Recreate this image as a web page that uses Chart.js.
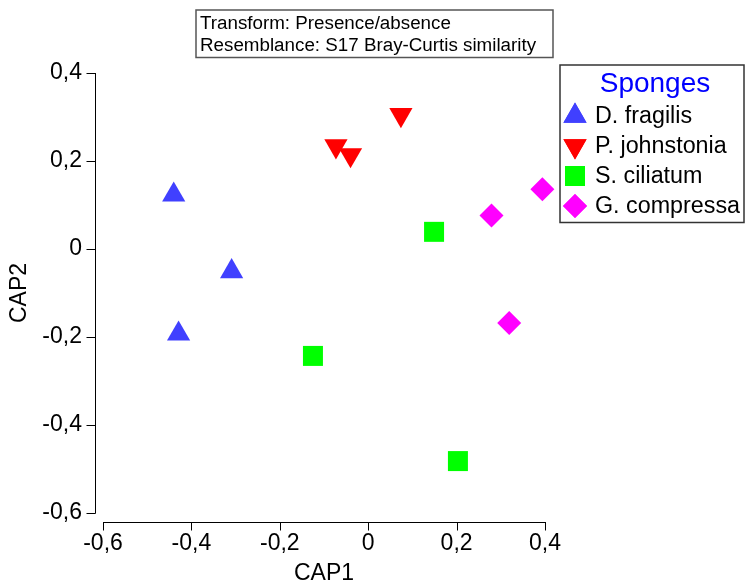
<!DOCTYPE html>
<html>
<head>
<meta charset="utf-8">
<script src="https://cdn.jsdelivr.net/npm/chart.js@4/dist/chart.umd.min.js"></script>
<style>
  html, body { margin: 0; padding: 0; background: #fff; }
  canvas { display: block; }
</style>
</head>
<body>
<canvas id="capChart" width="745" height="583"></canvas>
<script>
// CAP ordination scores per sponge species
var speciesNames = ['D. fragilis', 'P. johnstonia', 'S. ciliatum', 'G. compressa'];

var fragilisX = [-0.440, -0.309, -0.429];
var fragilisY = [0.123, -0.051, -0.193];

var johnstoniaX = [-0.073, -0.040, 0.074];
var johnstoniaY = [0.234, 0.214, 0.305];

var ciliatumX = [0.149, -0.125, 0.203];
var ciliatumY = [0.039, -0.243, -0.482];

var compressaX = [0.279, 0.394, 0.319];
var compressaY = [0.076, 0.136, -0.168];

var xTicks = [-0.6, -0.4, -0.2, 0, 0.2, 0.4];
var yTicks = [-0.6, -0.4, -0.2, 0, 0.2, 0.4];

var infoLines = ['Transform: Presence/absence', 'Resemblance: S17 Bray-Curtis similarity'];
var legendTitle = 'Sponges';

function points(xs, ys) {
    return xs.map(function (x, i) { return { x: x, y: ys[i] }; });
}

function fmt(v) {
    if (v === 0) return '0';
    return v.toFixed(1).replace('.', ',');
}

Chart.defaults.font.family = "'Liberation Sans', Arial, sans-serif";
Chart.defaults.color = '#000';

// axis lines sit a little away from the plot area, like the PRIMER output
var offsetAxes = {
    id: 'offsetAxes',
    afterDraw: function (chart) {
        var ctx = chart.ctx;
        var area = chart.chartArea;
        var xs = chart.scales.x, ys = chart.scales.y;
        var ax = area.left - 7.5;
        var ay = area.bottom + 9.5;
        ctx.save();
        ctx.strokeStyle = '#000';
        ctx.lineWidth = 1;
        ctx.beginPath();
        ctx.moveTo(ax, Math.round(ys.getPixelForValue(yTicks[yTicks.length - 1])));
        ctx.lineTo(ax, Math.round(ys.getPixelForValue(yTicks[0])) + 0.5);
        yTicks.forEach(function (v) {
            var p = Math.round(ys.getPixelForValue(v)) + 0.5;
            ctx.moveTo(ax - 9, p);
            ctx.lineTo(ax, p);
        });
        ctx.moveTo(Math.round(xs.getPixelForValue(xTicks[0])), ay);
        ctx.lineTo(Math.round(xs.getPixelForValue(xTicks[xTicks.length - 1])) + 1, ay);
        xTicks.forEach(function (v) {
            var p = Math.round(xs.getPixelForValue(v)) + 0.5;
            ctx.moveTo(p, ay);
            ctx.lineTo(p, ay + 8);
        });
        ctx.stroke();
        ctx.restore();
    }
};

// boxed notes: transform text and the species legend
var boxes = {
    id: 'boxes',
    afterDraw: function (chart) {
        var ctx = chart.ctx;
        ctx.save();

        ctx.strokeStyle = '#555';
        ctx.lineWidth = 1.5;
        ctx.strokeRect(196, 10, 357, 47.5);
        ctx.fillStyle = '#000';
        ctx.font = "18.8px 'Liberation Sans', Arial, sans-serif";
        ctx.textAlign = 'left';
        ctx.textBaseline = 'alphabetic';
        ctx.fillText(infoLines[0], 200, 28.5);
        ctx.fillText(infoLines[1], 200, 51);

        ctx.strokeStyle = '#333';
        ctx.strokeRect(560, 65, 184, 157.5);
        ctx.fillStyle = '#0000ff';
        ctx.font = "28px 'Liberation Sans', Arial, sans-serif";
        ctx.textAlign = 'center';
        ctx.fillText(legendTitle, 655, 92);

        ctx.font = "23.3px 'Liberation Sans', Arial, sans-serif";
        ctx.textAlign = 'left';
        chart.data.datasets.forEach(function (ds, i) {
            var base = 123 + i * 30;
            ctx.fillStyle = ds.backgroundColor;
            Chart.helpers.drawPoint(ctx, {
                pointStyle: ds.pointStyle,
                rotation: ds.pointRotation || 0,
                radius: ds.pointRadius,
                borderWidth: 0
            }, 575, base - 7);
            ctx.fill();
            ctx.fillStyle = '#000';
            ctx.fillText(ds.label, 595, base);
        });
        ctx.restore();
    }
};

var ctx = document.getElementById('capChart').getContext('2d');
var chart = new Chart(ctx, {
    type: 'scatter',
    data: {
        datasets: [{
            label: speciesNames[0],
            data: points(fragilisX, fragilisY),
            backgroundColor: '#4040ff',
            pointStyle: 'triangle',
            pointRadius: 13.4,
            pointBorderWidth: 0,
            clip: false
        }, {
            label: speciesNames[1],
            data: points(johnstoniaX, johnstoniaY),
            backgroundColor: '#ff0000',
            pointStyle: 'triangle',
            pointRotation: 180,
            pointRadius: 13.4,
            pointBorderWidth: 0,
            clip: false
        }, {
            label: speciesNames[2],
            data: points(ciliatumX, ciliatumY),
            backgroundColor: '#00ff00',
            pointStyle: 'rect',
            pointRadius: 14.14,
            pointBorderWidth: 0,
            clip: false
        }, {
            label: speciesNames[3],
            data: points(compressaX, compressaY),
            backgroundColor: '#ff00ff',
            pointStyle: 'rectRot',
            pointRadius: 12,
            pointBorderWidth: 0,
            clip: false
        }]
    },
    options: {
        responsive: false,
        animation: false,
        devicePixelRatio: 1,
        layout: { padding: { left: 0, top: 73, right: 200, bottom: 0 } },
        plugins: {
            legend: { display: false },
            tooltip: { enabled: false }
        },
        scales: {
            x: {
                type: 'linear',
                min: -0.6,
                max: 0.4,
                afterFit: function (s) { s.height = 70; },
                afterBuildTicks: function (s) { s.ticks = xTicks.map(function (v) { return { value: v }; }); },
                grid: { display: false, drawTicks: false, tickLength: 0 },
                border: { display: false },
                ticks: {
                    padding: 17,
                    maxRotation: 0,
                    font: { size: 23 },
                    color: '#000',
                    callback: function (v) { return fmt(v); }
                },
                title: {
                    display: true,
                    text: 'CAP1',
                    font: { size: 23, lineHeight: 0.8 },
                    padding: { top: 0, bottom: 0 },
                    color: '#000'
                }
            },
            y: {
                type: 'linear',
                min: -0.6,
                max: 0.4,
                afterFit: function (s) { s.width = 103; },
                afterBuildTicks: function (s) { s.ticks = yTicks.map(function (v) { return { value: v }; }); },
                grid: { display: false, drawTicks: false, tickLength: 0 },
                border: { display: false },
                ticks: {
                    padding: 21,
                    font: { size: 23 },
                    color: '#000',
                    callback: function (v) { return fmt(v); }
                },
                title: {
                    display: true,
                    text: 'CAP2',
                    font: { size: 23, lineHeight: 1.2 },
                    padding: { top: 6, bottom: 0 },
                    color: '#000'
                }
            }
        }
    },
    plugins: [offsetAxes, boxes]
});
</script>
</body>
</html>
